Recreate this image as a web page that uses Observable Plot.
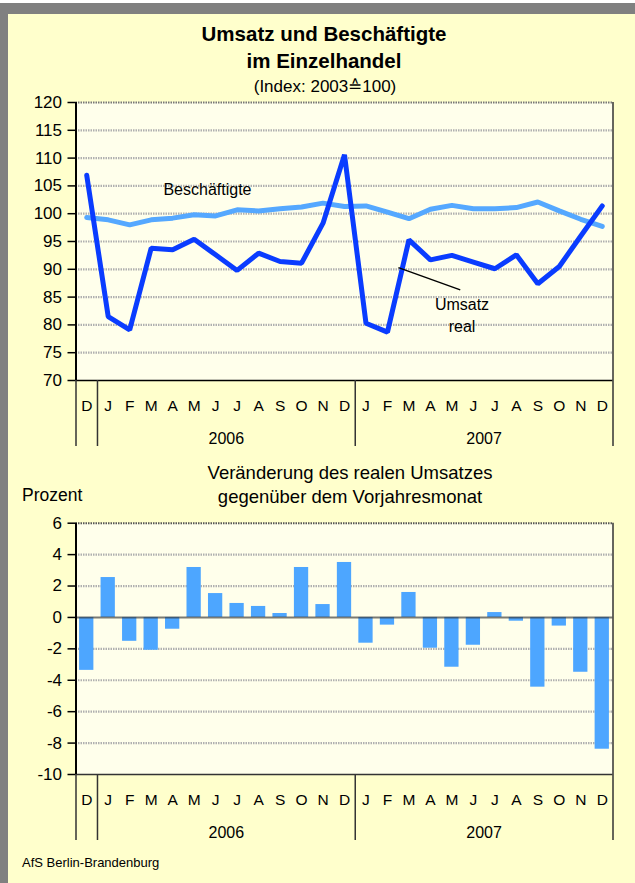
<!DOCTYPE html>
<html>
<head>
<meta charset="utf-8">
<script src="https://cdn.jsdelivr.net/npm/d3@7"></script>
<script src="https://cdn.jsdelivr.net/npm/@observablehq/plot@0.6"></script>
<style>
  html, body { margin: 0; padding: 0; background: #ffffff; }
  #page { position: relative; width: 635px; height: 883px; background: #FFFFCC; overflow: hidden;
          font-family: "Liberation Sans", Arial, sans-serif; color: #000; }
  .white-top { position: absolute; left: 0; top: 0; width: 635px; height: 3px; background: #ffffff; }
  .band-top { position: absolute; left: 0; top: 3px; width: 635px; height: 11px; background: #808080; }
  .band-left { position: absolute; left: 0; top: 3px; width: 8px; height: 880px; background: #808080; }
  .t { position: absolute; white-space: nowrap; line-height: 1; }
  .c { transform: translateX(-50%); }
  .chart { position: absolute; left: 0; }
  .chart svg { overflow: visible; }
</style>
</head>
<body>
<div id="page">
  <div class="white-top"></div>
  <div class="band-top"></div>
  <div class="band-left"></div>
  <div class="t c" id="title1" style="left:324px; top:24px; font-size:20.5px; font-weight:bold;"></div>
  <div class="t c" id="title2" style="left:324px; top:51px; font-size:20.5px; font-weight:bold;"></div>
  <div class="t c" id="subtitle" style="left:325px; top:78px; font-size:17px;"></div>
  <div class="chart" id="chart1" style="top:90px;"></div>
  <div class="t c" id="title3" style="left:350px; top:464px; font-size:18.5px;"></div>
  <div class="t c" id="title4" style="left:350px; top:488px; font-size:18.5px;"></div>
  <div class="t" id="unit" style="left:22px; top:487px; font-size:17.5px;"></div>
  <div class="chart" id="chart2" style="top:510px;"></div>
  <div class="t" id="source" style="left:22px; top:856px; font-size:13px;"></div>
</div>
<script>
// ---------- data ----------
const titleLines = ["Umsatz und Beschäftigte", "im Einzelhandel"];
const subtitleText = "(Index: 2003\u2259100)";
const title2Lines = ["Veränderung des realen Umsatzes", "gegenüber dem Vorjahresmonat"];
const unitLabel = "Prozent";
const sourceText = "AfS Berlin-Brandenburg";

const months = ["D","J","F","M","A","M","J","J","A","S","O","N","D","J","F","M","A","M","J","J","A","S","O","N","D"];
const monthYear = [2005,2006,2006,2006,2006,2006,2006,2006,2006,2006,2006,2006,2006,2007,2007,2007,2007,2007,2007,2007,2007,2007,2007,2007,2007];
const yearLabels = ["2006", "2007"];

// Index 2003 = 100
const umsatzReal = [106.9, 81.5, 79.1, 93.8, 93.5, 95.4, 92.6, 89.8, 92.9, 91.4, 91.1, 98.3, 110.6,
                    80.3, 78.7, 95.3, 91.7, 92.5, 91.3, 90.1, 92.6, 87.4, 90.5, 96.0, 101.4];
const beschaeftigte = [99.3, 98.9, 98.0, 98.9, 99.2, 99.8, 99.6, 100.7, 100.5, 100.9, 101.2, 101.9, 101.3,
                       101.4, 100.3, 99.1, 100.8, 101.5, 100.9, 100.9, 101.1, 102.1, 100.5, 99.0, 97.7];
// Veränderung gegenüber Vorjahresmonat, %
const veraenderung = [-3.37, 2.54, -1.52, -2.09, -0.75, 3.18, 1.52, 0.89, 0.70, 0.25, 3.18, 0.82, 3.50,
                      -1.64, -0.49, 1.59, -1.96, -3.17, -1.77, 0.31, -0.24, -4.44, -0.55, -3.49, -8.39];

const yTicksTop = [70, 75, 80, 85, 90, 95, 100, 105, 110, 115, 120];
const yTicksBottom = [-10, -8, -6, -4, -2, 0, 2, 4, 6];

// annotation labels (data coordinates: month index, value)
const labelBesch = {text: "Beschäftigte", i: 5.62, v: 104.2};
const labelUmsatz = {text: "Umsatz\nreal", i: 17.47, v: 81.9};
const leader = {i1: 14.51, v1: 90.3, i2: 17.39, v2: 86.3};

// ---------- text ----------
document.getElementById("title1").textContent = titleLines[0];
document.getElementById("title2").textContent = titleLines[1];
document.getElementById("subtitle").textContent = subtitleText;
document.getElementById("title3").textContent = title2Lines[0];
document.getElementById("title4").textContent = title2Lines[1];
document.getElementById("unit").textContent = unitLabel;
document.getElementById("source").textContent = sourceText;

// ---------- derived ----------
const n = months.length;
const idx = d3.range(n);
const rows = idx.map(i => ({i, umsatz: umsatzReal[i], besch: beschaeftigte[i], ver: veraenderung[i]}));
const separators = [-0.5, ...idx.filter(i => i > 0 && monthYear[i] !== monthYear[i - 1]).map(i => i - 0.5), n - 0.5];
const yearPos = yearLabels.map(y => d3.mean(idx.filter(i => String(monthYear[i]) === y)));

const font = "Liberation Sans, Arial, sans-serif";
const plotBg = "#FFFFEB";
const gridStyle = {stroke: "#b0b0b0", strokeWidth: 2.2, strokeDasharray: "1.5,1", strokeOpacity: 1};

function xAxes() {
  return [
    Plot.axisX({ticks: separators, tickSize: 66, tickFormat: () => "", stroke: "#333", strokeWidth: 1.5, label: null}),
    Plot.axisX({ticks: idx, tickSize: 0, tickPadding: 19, tickFormat: i => months[i], fontSize: 15.5, fill: "#000", label: null}),
    Plot.axisX({ticks: yearPos, tickSize: 0, tickPadding: 52, tickFormat: v => yearLabels[yearPos.indexOf(v)], fontSize: 16, fill: "#000", label: null})
  ];
}

// ---------- chart 1 ----------
const plot1 = Plot.plot({
  width: 635, height: 370,
  marginLeft: 75.5, marginRight: 22.5, marginTop: 12, marginBottom: 80,
  style: {background: "transparent", fontFamily: font, color: "#000", overflow: "visible"},
  x: {type: "linear", domain: [-0.5, n - 0.5], axis: null, label: null},
  y: {domain: [70, 120], axis: null, label: null},
  marks: [
    Plot.frame({fill: plotBg, stroke: null}),
    Plot.ruleY(yTicksTop.filter(v => v > 70 && v < 120), gridStyle),
    Plot.ruleY([120], {stroke: "#777", strokeWidth: 2, strokeDasharray: "1.5,1"}),
    Plot.ruleX([n - 0.5], {stroke: "#333", strokeWidth: 1.5}),
    Plot.line(rows, {x: "i", y: "besch", stroke: "#55a8ff", strokeWidth: 5, strokeLinejoin: "miter"}),
    Plot.line(rows, {x: "i", y: "umsatz", stroke: "#0a3cff", strokeWidth: 5, strokeLinejoin: "miter"}),
    Plot.link([leader], {x1: "i1", y1: "v1", x2: "i2", y2: "v2", stroke: "#000", strokeWidth: 1.5}),
    Plot.text([labelBesch], {x: "i", y: "v", text: "text", fontSize: 16, fill: "#000"}),
    Plot.text([labelUmsatz], {x: "i", y: "v", text: "text", fontSize: 16, fill: "#000", lineHeight: 1.375}),
    Plot.ruleY([70], {stroke: "#000", strokeWidth: 1.5}),
    Plot.ruleX([-0.5], {stroke: "#000", strokeWidth: 2}),
    Plot.axisY({ticks: yTicksTop, tickSize: 8, tickPadding: 6, fontSize: 17, stroke: "#000", strokeWidth: 1.5, fill: "#000", tickFormat: d => String(d), label: null}),
    ...xAxes()
  ]
});
document.getElementById("chart1").appendChild(plot1);

// ---------- chart 2 ----------
const plot2 = Plot.plot({
  width: 635, height: 345,
  marginLeft: 75.5, marginRight: 22.5, marginTop: 12.7, marginBottom: 81,
  style: {background: "transparent", fontFamily: font, color: "#000", overflow: "visible"},
  x: {type: "linear", domain: [-0.5, n - 0.5], axis: null, label: null},
  y: {domain: [-10, 6], axis: null, label: null},
  marks: [
    Plot.frame({fill: plotBg, stroke: null}),
    Plot.ruleY(yTicksBottom.filter(v => v > -10 && v < 6 && v !== 0), gridStyle),
    Plot.ruleY([6], {stroke: "#555", strokeWidth: 2, strokeDasharray: "1.5,1"}),
    Plot.rectY(rows, {x1: d => d.i - 0.5, x2: d => d.i + 0.5, y1: 0, y2: "ver", fill: "#4da6ff", insetLeft: 3.6, insetRight: 3.6}),
    Plot.ruleY([0], {stroke: "#333", strokeOpacity: 0.65, strokeWidth: 2}),
    Plot.ruleY([-10], {stroke: "#333", strokeWidth: 1.5}),
    Plot.ruleX([n - 0.5], {stroke: "#333", strokeWidth: 1.5}),
    Plot.ruleX([-0.5], {stroke: "#000", strokeWidth: 2}),
    Plot.axisY({ticks: yTicksBottom, tickSize: 8, tickPadding: 6, fontSize: 17, stroke: "#000", strokeWidth: 1.5, fill: "#000", tickFormat: d => String(d), label: null}),
    ...xAxes()
  ]
});
document.getElementById("chart2").appendChild(plot2);
</script>
</body>
</html>
